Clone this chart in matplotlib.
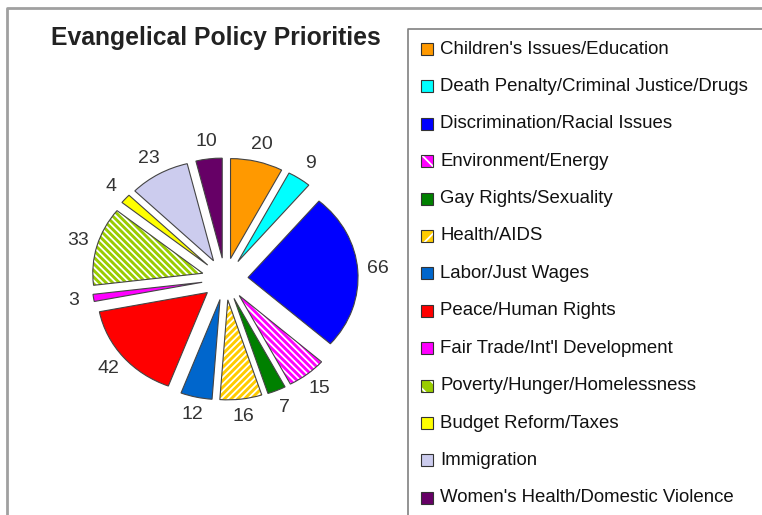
import matplotlib
matplotlib.use("Agg")
import matplotlib.pyplot as plt
from matplotlib.patches import Rectangle, Wedge
from matplotlib.lines import Line2D

plt.rcParams['font.family'] = ['Liberation Sans', 'DejaVu Sans']
plt.rcParams['hatch.linewidth'] = 1.3

# Data (clockwise from 12 o'clock)
categories = [
    "Children's Issues/Education",
    "Death Penalty/Criminal Justice/Drugs",
    "Discrimination/Racial Issues",
    "Environment/Energy",
    "Gay Rights/Sexuality",
    "Health/AIDS",
    "Labor/Just Wages",
    "Peace/Human Rights",
    "Fair Trade/Int'l Development",
    "Poverty/Hunger/Homelessness",
    "Budget Reform/Taxes",
    "Immigration",
    "Women's Health/Domestic Violence",
]
values = [20, 9, 66, 15, 7, 16, 12, 42, 3, 33, 4, 23, 10]
colors = ['#FF9900', '#00FFFF', '#0000FF', '#FF00FF', '#008000', '#FFCC00',
          '#0066CC', '#FF0000', '#FF00FF', '#99CC00', '#FFFF00', '#CCCCEE',
          '#660066']
hatches = [None, None, None, '\\' * 5, None, '/' * 5, None, None, None,
           '\\' * 5, None, None, None]

W, H = 762, 515
fig = plt.figure(figsize=(W / 100, H / 100), dpi=100)


def fx(x):
    return x / W


def fy(y):
    return 1 - y / H


# outer chart border (clipped by the screenshot)
fig.add_artist(Line2D([fx(7), fx(7), 1.0], [0.0, fy(8), fy(8)],
                      transform=fig.transFigure, color='#A0A0A0', lw=2))

# pie axes, slightly wider than tall like the original
cx, cy, rx, ry = 225, 279, 110, 100
lim = 1.6
ax = fig.add_axes([fx(cx - lim * rx), fy(cy + lim * ry),
                   2 * lim * rx / W, 2 * lim * ry / H])
wedges, texts = ax.pie(
    values, labels=[str(v) for v in values], colors=colors,
    startangle=90, counterclock=False, explode=[0.21] * len(values),
    labeldistance=1.18,
    wedgeprops=dict(edgecolor='#444444', linewidth=0.8),
    textprops=dict(fontsize=14, color='#333333'))
ax.set_aspect('auto')
ax.set_xlim(-lim, lim)
ax.set_ylim(-lim, lim)
for t in texts:
    t.set_ha('center')
    t.set_va('center')

# striped slices: white hatch over the colour, outline drawn separately
for w, h in zip(wedges, hatches):
    if h:
        w.set_edgecolor('white')
        w.set_hatch(h)
        w.set_linewidth(0)
        ax.add_patch(Wedge(w.center, w.r, w.theta1, w.theta2, fill=False,
                           edgecolor='#444444', linewidth=0.8))

fig.text(fx(216), fy(38), 'Evangelical Policy Priorities', ha='center',
         va='center', fontsize=17.8, fontweight='bold', color='#222222')

# legend box (runs off the right and bottom edge)
fig.add_artist(Line2D([fx(408), fx(408), 1.0], [0.0, fy(29), fy(29)],
                      transform=fig.transFigure, color='#808080', lw=1.2))
for i, (lab, col, h) in enumerate(zip(categories, colors, hatches)):
    y = 49 + i * 37.4
    fig.add_artist(Rectangle((fx(421), fy(y + 6)), 12 / W, 12 / H,
                             transform=fig.transFigure, facecolor=col,
                             edgecolor='white' if h else '#333333',
                             hatch=h[:2] if h else None,
                             lw=0.8 if not h else 0))
    if h:
        fig.add_artist(Rectangle((fx(421), fy(y + 6)), 12 / W, 12 / H,
                                 transform=fig.transFigure, fill=False,
                                 edgecolor='#333333', lw=0.8))
    fig.text(fx(440), fy(y), lab, ha='left', va='center', fontsize=13.4,
             color='#111111')

fig.savefig('out.png', dpi=100)
